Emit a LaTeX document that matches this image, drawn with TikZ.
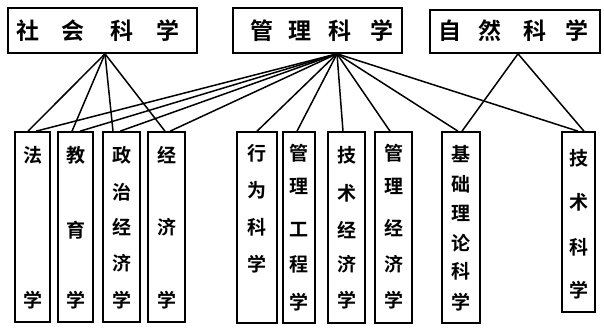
\documentclass[tikz,border=0pt]{standalone}
\usepackage{fontspec}
\newfontfamily\cjk{Noto Sans CJK SC}[BoldFont={Noto Sans CJK SC Bold}]
\tikzset{
  box/.style={draw, line width=1.6pt, inner sep=0pt, rectangle},
  conn/.style={line width=1.5pt},
  tch/.style={inner sep=0pt, font=\cjk\bfseries\fontsize{23}{23}\selectfont},
  bch/.style={inner sep=0pt, font=\cjk\bfseries\fontsize{19}{19}\selectfont},
}
\begin{document}
\begin{tikzpicture}[x=1pt,y=-1pt]
\useasboundingbox (0,0) rectangle (604,328);
% top boxes
\node[box, minimum width=189pt, minimum height=45pt] (soc) at (102.5,30.5) {};
\node[box, minimum width=169pt, minimum height=45pt] (mgt) at (317.5,30.5) {};
\node[box, minimum width=170pt, minimum height=43pt] (nat) at (515,31.5) {};
% bottom boxes
\node[box, minimum width=35pt, minimum height=190pt] (fa) at (32.5,227) {};
\node[box, minimum width=35pt, minimum height=190pt] (jy) at (75.5,227) {};
\node[box, minimum width=37pt, minimum height=190pt] (zz) at (121.5,227) {};
\node[box, minimum width=37pt, minimum height=190pt] (jj) at (166.5,227) {};
\node[box, minimum width=40pt, minimum height=191pt] (xw) at (257,227.5) {};
\node[box, minimum width=32pt, minimum height=191pt] (gg) at (299,227.5) {};
\node[box, minimum width=37pt, minimum height=191pt] (js) at (346.5,227.5) {};
\node[box, minimum width=37pt, minimum height=191pt] (gj) at (393.5,227.5) {};
\node[box, minimum width=38pt, minimum height=191pt] (jc) at (461,227.5) {};
\node[box, minimum width=33pt, minimum height=180pt] (jk) at (578.5,222) {};
% top texts
\foreach \n/\x/\t in {s1/28/社,s2/73/会,s3/122/科,s4/168/学,
                      m1/262/管,m2/300/理,m3/340/科,m4/382/学,
                      n1/450/自,n2/490/然,n3/535/科,n4/577/学}
  \node[tch] (\n) at (\x,31) {\t};
% bottom texts
\foreach \n/\x/\y/\t in {
  fa1/32.5/155/法, fa2/32.5/300/学,
  jy1/75.5/155/教, jy2/75.5/230/育, jy3/75.5/300/学,
  zz1/121.5/155/政, zz2/121.5/192/治, zz3/121.5/227/经, zz4/121.5/263/济, zz5/121.5/300/学,
  jj1/166.5/155/经, jj2/166.5/227/济, jj3/166.5/300/学,
  xw1/257/153/行, xw2/257/190/为, xw3/257/227/科, xw4/257/264/学,
  gg1/299/153/管, gg2/299/186/理, gg3/299/230/工, gg4/299/264/程, gg5/299/302/学,
  js1/346.5/155/技, js2/346.5/193/术, js3/346.5/230/经, js4/346.5/264/济, js5/346.5/300/学,
  gj1/393.5/153/管, gj2/393.5/186/理, gj3/393.5/228/经, gj4/393.5/264/济, gj5/393.5/300/学,
  jc1/461/154/基, jc2/461/184/础, jc3/461/213/理, jc4/461/243/论, jc5/461/271/科, jc6/461/302/学,
  jk1/578.5/158/技, jk2/578.5/202/术, jk3/578.5/247/科, jk4/578.5/290/学}
  \node[bch] (\n) at (\x,\y) {\t};
% apexes
\coordinate (sa) at ([xshift=2.5pt]soc.south);
\coordinate (ma) at ([xshift=19.5pt]mgt.south);
\coordinate (na) at ([xshift=3pt]nat.south);
% connectors from social sciences
\draw[conn] (sa) -- ([xshift=-4.5pt]fa.north);
\draw[conn] (sa) -- ([xshift=-3.5pt]jy.north);
\draw[conn] (sa) -- ([xshift=-8.5pt]zz.north);
\draw[conn] (sa) -- ([xshift=-1.5pt]jj.north);
% connectors from management science
\draw[conn] (ma) -- ([xshift=3.5pt]fa.north);
\draw[conn] (ma) -- ([xshift=4.5pt]jy.north);
\draw[conn] (ma) -- ([xshift=-1.5pt]zz.north);
\draw[conn] (ma) -- ([xshift=3.5pt]jj.north);
\draw[conn] (ma) -- (xw.north);
\draw[conn] (ma) -- ([xshift=-2pt]gg.north);
\draw[conn] (ma) -- ([xshift=-3.5pt]js.north);
\draw[conn] (ma) -- ([xshift=-3.5pt]gj.north);
\draw[conn] (ma) -- ([xshift=-3pt]jc.north);
\draw[conn] (ma) -- ([xshift=-0.5pt]jk.north);
% connectors from natural sciences
\draw[conn] (na) -- ([xshift=1pt]jc.north);
\draw[conn] (na) -- ([xshift=5.5pt]jk.north);
\end{tikzpicture}
\end{document}
